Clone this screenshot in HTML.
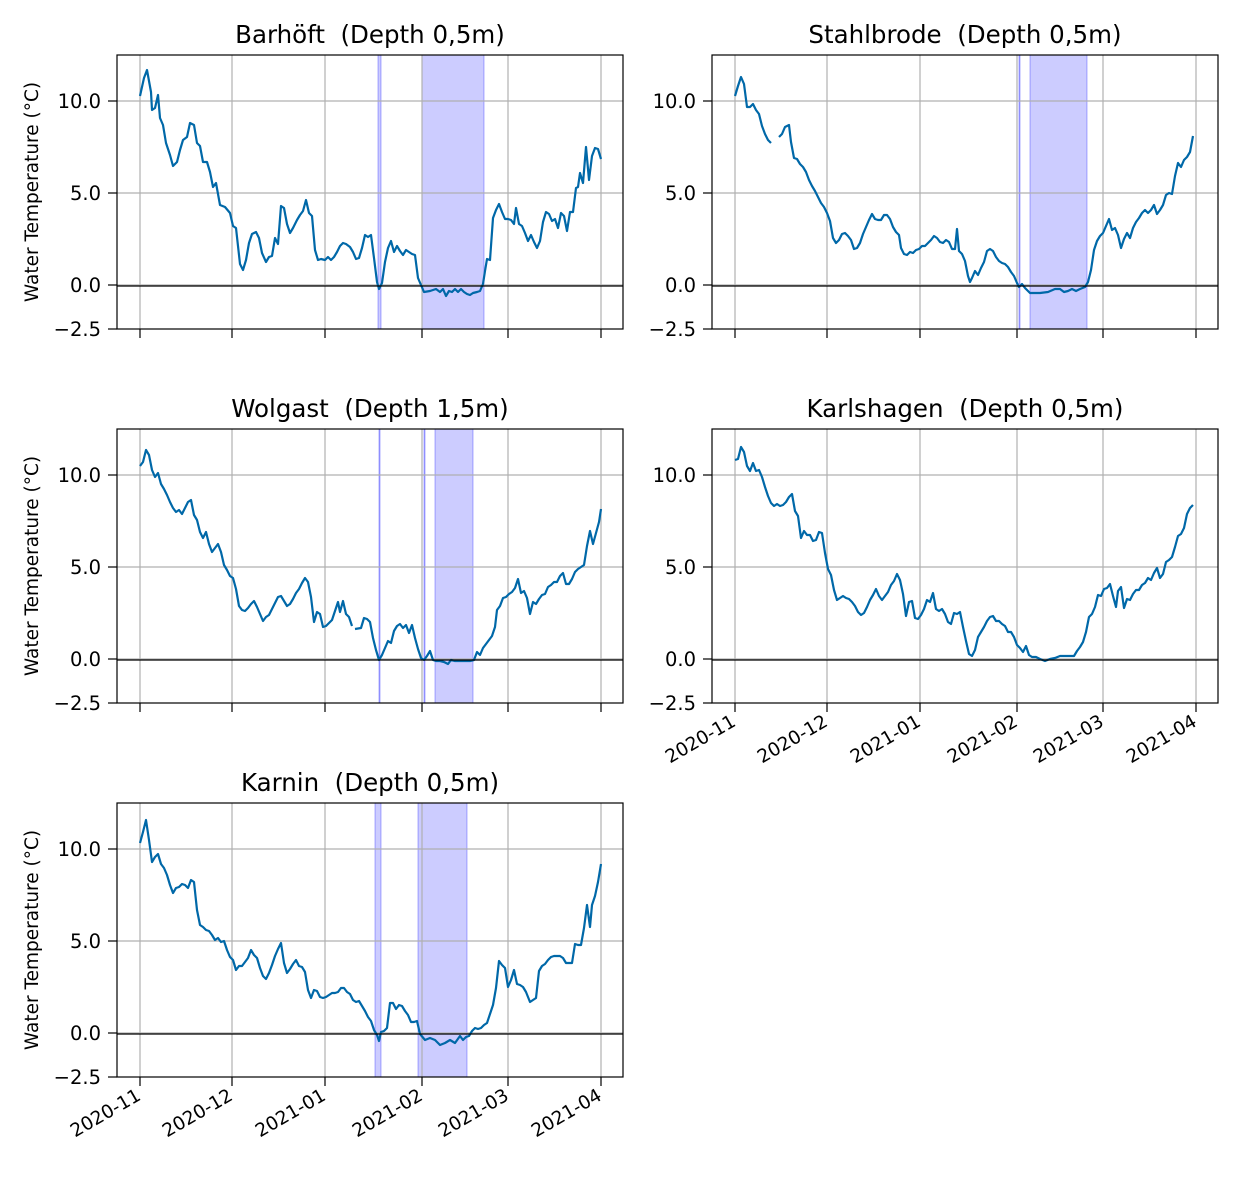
<!DOCTYPE html>
<html><head><meta charset="utf-8"><style>
body{margin:0;background:#fff}
svg{display:block;font-family:"DejaVu Sans","Liberation Sans",sans-serif}
</style></head><body>
<svg id="s" width="1240" height="1177" xmlns="http://www.w3.org/2000/svg">
<rect width="1240" height="1177" fill="#fff"/>
<g id="bg"></g>
<g fill="none" stroke="#0068a8" stroke-width="2.2" stroke-linejoin="round">
<polyline points="140,96 144,78 147,70 151,92 152,110 155,108 158,95 160,118 163,125 166,143 170,155 173,166 177,162 180,150 183,140 187,137 190,123 194,125 197,143 200,146 203,162 207,162 210,172 213,187 216,183 220,205 225,207 230,213 233,226 236,228 240,264 243,270 246,260 249,243 252,234 256,232 259,238 262,253 266,262 269,257 272,256 275,238 278,244 281,206 284,208 287,224 290,233 293,228 297,220 300,215 303,211 306,200 309,213 312,216 315,250 318,260 321,259 325,260 328,257 331,260 334,257 337,252 340,246 343,243 346,244 350,247 353,252 356,259 359,258 362,248 365,235 368,237 371,235 374,258 377,282 379,289 382,283 385,262 388,248 391,241 394,252 397,246 400,251 403,255 406,250 409,252 412,254 415,255 418,278 421,285 424,292 430,291 436,289 440,292 443,289 446,296 449,291 452,292 455,289 458,292 461,289 464,292 467,294 470,295 473,293 477,292 480,291 483,284 485,271 487,259 490,260 493,218 496,210 499,204 502,212 505,219 508,219 511,220 514,224 516,208 519,224 522,226 525,233 528,241 531,235 534,242 537,248 540,241 543,222 546,212 549,214 552,221 555,219 558,228 561,213 564,216 567,231 570,212 573,212 576,188 578,187 580,173 583,183 586,147 589,180 592,156 595,148 598,149 601,159"/>
<polyline points="735,96 738,86 741,77 744,84 747,107 750,107 753,104 756,110 759,114 762,126 765,134 768,140 771,143"/>
<polyline points="779,137 782,134 785,127 789,125 791,142 794,158 797,159 800,164 803,167 806,172 809,180 812,186 815,191 818,197 821,203 824,207 827,213 830,221 833,238 836,243 839,240 842,234 845,233 848,236 851,240 854,249 857,248 860,243 863,234 866,227 869,220 872,214 875,219 878,220 881,220 884,215 887,215 890,219 893,227 896,232 899,235 901,248 904,254 907,255 910,252 913,253 916,250 919,249 922,246 925,246 928,243 931,240 934,236 937,238 940,242 943,243 946,240 949,242 952,249 955,249 957,229 959,251 962,254 965,261 968,276 970,282 972,278 975,271 978,275 981,268 984,262 987,251 990,249 993,251 996,257 999,261 1002,263 1005,264 1008,267 1011,272 1014,276 1017,283 1019,287 1022,284 1025,288 1030,293 1040,293 1048,292 1055,289 1060,289 1064,292 1068,291 1072,289 1076,291 1080,289 1085,287 1088,282 1091,270 1094,250 1097,241 1100,236 1103,233 1106,226 1109,219 1112,230 1115,228 1118,235 1121,248 1124,239 1127,233 1130,238 1133,228 1136,222 1139,218 1142,213 1145,210 1148,213 1151,210 1154,205 1157,214 1160,210 1163,205 1166,195 1169,193 1172,194 1175,176 1178,163 1181,167 1184,160 1187,157 1190,152 1193,136"/>
<polyline points="140,466 143,462 146,450 149,455 152,470 155,477 158,473 161,484 164,489 167,495 170,502 173,508 176,512 179,510 182,514 185,508 188,502 191,500 194,515 197,520 200,532 203,538 206,532 209,544 212,552 215,548 218,544 221,552 224,565 227,570 230,576 233,578 236,589 239,606 242,610 245,611 248,608 251,604 254,601 257,607 260,614 263,621 266,617 269,615 272,609 275,603 278,597 281,596 284,601 287,606 290,604 293,599 296,593 299,589 302,583 305,578 308,582 311,597 314,622 317,612 320,614 323,627 326,626 329,623 332,620 335,611 338,602 340,612 343,601 346,614 349,617 352,626"/>
<polyline points="355,629 361,628 364,618 367,619 370,622 373,638 376,650 379,660 382,655 385,648 388,641 391,643 394,631 397,626 400,624 403,628 406,625 409,633 412,625 415,638 418,649 421,658 424,660 427,656 430,651 433,660 436,661 440,661 444,662 448,664 451,660 455,661 460,661 465,661 470,661 474,660 477,652 480,655 483,648 486,644 489,640 492,636 495,627 497,610 500,606 503,598 506,597 509,594 512,592 515,588 518,579 521,593 524,591 527,598 530,614 533,602 536,604 539,599 542,595 545,594 548,587 551,585 554,582 557,582 560,576 563,573 566,584 569,584 572,579 575,572 578,569 581,567 584,565 587,546 590,531 593,544 596,533 599,522 601,509"/>
<polyline points="735,460 738,459 741,447 744,452 747,466 750,471 753,463 756,471 759,470 762,477 765,487 768,496 771,503 774,506 777,504 780,506 783,505 786,502 789,497 792,494 795,511 798,516 801,538 804,531 807,535 810,535 813,541 816,540 819,532 822,533 825,553 828,569 831,575 834,590 837,600 840,598 843,596 846,598 849,599 852,602 855,606 858,612 861,615 864,613 867,607 870,600 873,595 876,589 879,596 882,600 885,596 888,592 891,585 894,581 897,574 900,580 903,594 906,616 909,602 912,601 915,618 918,619 921,615 924,609 927,600 930,602 933,593 936,609 939,611 942,609 945,614 948,622 951,624 954,613 957,614 960,612 963,627 966,641 969,654 972,656 975,650 978,637 981,632 984,627 987,621 990,617 993,616 996,621 999,621 1002,624 1005,626 1008,632 1011,632 1014,637 1017,645 1020,648 1023,652 1026,646 1029,655 1032,657 1036,657 1040,659 1045,661 1050,659 1055,658 1060,656 1065,656 1070,656 1074,656 1077,651 1080,647 1083,642 1086,632 1089,617 1092,614 1095,607 1098,595 1101,596 1104,589 1107,588 1110,584 1113,596 1116,607 1118,591 1121,587 1124,608 1127,599 1130,600 1133,594 1136,590 1139,590 1142,585 1145,583 1148,578 1151,580 1154,573 1157,568 1160,578 1163,574 1166,562 1169,560 1172,557 1175,547 1178,536 1181,534 1184,528 1187,514 1190,508 1193,505"/>
<polyline points="140,843 143,832 146,820 149,840 152,862 155,857 158,854 161,864 164,868 167,875 170,885 173,893 176,888 179,887 182,884 185,885 188,888 191,880 194,882 197,910 200,925 203,927 206,930 209,931 212,935 215,940 218,938 221,942 224,941 227,950 230,957 233,960 236,970 239,966 242,966 245,962 248,958 251,950 254,955 257,958 260,968 263,976 266,979 269,973 272,965 275,956 278,949 281,943 284,963 287,973 290,969 293,964 296,960 299,966 302,967 305,972 308,990 311,998 314,990 317,991 320,997 323,998 326,997 329,995 332,993 335,993 338,992 341,988 344,988 347,992 350,994 353,1000 356,1002 359,1001 362,1006 365,1011 368,1017 371,1021 374,1030 377,1035 379,1041 381,1032 384,1031 387,1028 390,1003 393,1003 396,1009 399,1005 402,1006 405,1011 408,1015 411,1022 414,1022 417,1021 420,1034 425,1040 430,1038 435,1040 440,1045 445,1043 450,1040 455,1043 460,1036 463,1040 466,1037 469,1036 472,1031 475,1028 478,1029 481,1028 484,1025 487,1023 490,1014 493,1005 496,988 499,961 502,965 505,968 508,987 511,980 514,970 517,984 520,985 523,987 526,992 530,1002 533,1000 536,998 539,971 542,966 545,964 548,960 551,957 554,956 557,956 560,956 563,958 566,963 569,963 572,963 575,944 578,945 581,945 584,928 587,905 590,927 592,905 595,896 598,882 601,864"/>
</g>
<g id="fg"></g>
</svg>
<script>
var ns="http://www.w3.org/2000/svg";
function el(p,t,a,txt){var e=document.createElementNS(ns,t);for(var k in a)e.setAttribute(k,a[k]);if(txt)e.textContent=txt;p.appendChild(e);return e;}
var bg=document.getElementById('bg'),fg=document.getElementById('fg');
var P=[
{x:0,y:0,t:"Barhöft\u00a0\u00a0(Depth 0,5m)",sh:[[378,381],[422,484]],lab:false,yl:true},
{x:595,y:0,t:"Stahlbrode\u00a0\u00a0(Depth 0,5m)",sh:[[1019,1020],[1030,1087]],lab:false,yl:false},
{x:0,y:374,t:"Wolgast\u00a0\u00a0(Depth 1,5m)",sh:[[379,380],[424,425],[435,473]],lab:false,yl:true},
{x:595,y:374,t:"Karlshagen\u00a0\u00a0(Depth 0,5m)",sh:[],lab:true,yl:false},
{x:0,y:748,t:"Karnin\u00a0\u00a0(Depth 0,5m)",sh:[[375,381],[418,467]],lab:true,yl:true}];
var xt=[140,232,325,422,508,601],xl=["2020-11","2020-12","2021-01","2021-02","2021-03","2021-04"];
var yt=[[101,"10.0"],[193,"5.0"],[285,"0.0"],[329,"\u22122.5"]];
P.forEach(function(p){
 var L=117+p.x,R=623+p.x,T=55+p.y,B=329+p.y;
 p.sh.forEach(function(s){el(bg,'rect',{x:s[0],y:T,width:s[1]-s[0],height:B-T,fill:'rgba(0,0,255,0.2)',stroke:'rgba(0,0,255,0.3)','stroke-width':1});});
 xt.forEach(function(x,i){var X=x+p.x;el(bg,'line',{x1:X,x2:X,y1:T,y2:B,stroke:'#b0b0b0','stroke-width':1.2});
  el(fg,'line',{x1:X,x2:X,y1:B,y2:B+9,stroke:'#000','stroke-width':1.2});
  if(p.lab){el(fg,'text',{x:X+2,y:B+22,'font-size':18.5,'text-anchor':'end',transform:'rotate(-30 '+(X+2)+' '+(B+22)+')'},xl[i]);}});
 yt.forEach(function(v){var Y=v[0]+p.y;if(v[0]<329)el(bg,'line',{x1:L,x2:R,y1:Y,y2:Y,stroke:'#b0b0b0','stroke-width':1.2});
  el(fg,'line',{x1:L-9,x2:L,y1:Y,y2:Y,stroke:'#000','stroke-width':1.2});
  el(fg,'text',{x:L-16,y:Y+7,'font-size':19.5,'text-anchor':'end'},v[1]);});
 el(fg,'line',{x1:L,x2:R,y1:286+p.y,y2:286+p.y,stroke:'#000','stroke-width':1.2});
 el(fg,'rect',{x:L,y:T,width:R-L,height:B-T,fill:'none',stroke:'#000','stroke-width':1.2});
 el(fg,'text',{x:(L+R)/2,y:T-12,'font-size':24.5,'text-anchor':'middle'},p.t);
 if(p.yl){var cy=(T+B)/2;el(fg,'text',{x:38,y:cy,'font-size':18.5,'text-anchor':'middle',transform:'rotate(-90 38 '+cy+')'},"Water Temperature (\u00b0C)");}
});
</script>
</body></html>
